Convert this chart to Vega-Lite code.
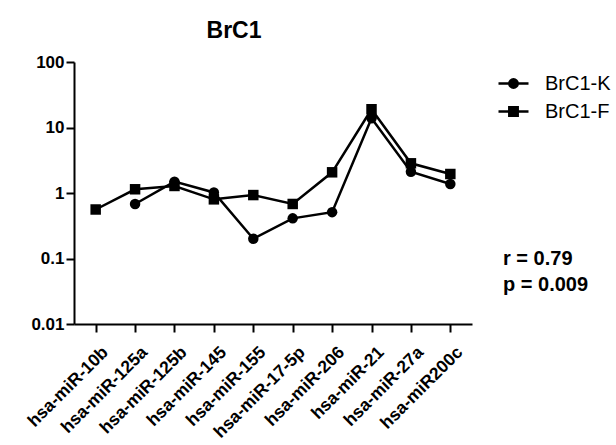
{
  "$schema": "https://vega.github.io/schema/vega-lite/v6.json",
  "width": 398,
  "height": 262,
  "autosize": {"type": "none"},
  "padding": {"left": 74, "top": 62, "right": 144, "bottom": 121},
  "background": "white",
  "config": {
    "font": "Liberation Sans",
    "view": {"stroke": null},
    "axis": {
      "domainColor": "black",
      "domainWidth": 2,
      "tickColor": "black",
      "tickWidth": 2,
      "tickSize": 8,
      "labelColor": "black",
      "labelFont": "Liberation Sans",
      "labelFontWeight": "bold",
      "labelFontSize": 17,
      "grid": false,
      "title": null
    }
  },
  "title": {
    "text": "BrC1",
    "anchor": "middle",
    "frame": "group",
    "dx": -39,
    "fontSize": 23,
    "fontWeight": "bold",
    "font": "Liberation Sans",
    "color": "black",
    "offset": 10
  },
  "data": {
    "values": [
      {"mirna": "hsa-miR-10b", "series": "BrC1-F", "value": 0.56},
      {"mirna": "hsa-miR-125a", "series": "BrC1-F", "value": 1.14},
      {"mirna": "hsa-miR-125b", "series": "BrC1-F", "value": 1.28},
      {"mirna": "hsa-miR-145", "series": "BrC1-F", "value": 0.8},
      {"mirna": "hsa-miR-155", "series": "BrC1-F", "value": 0.93},
      {"mirna": "hsa-miR-17-5p", "series": "BrC1-F", "value": 0.68},
      {"mirna": "hsa-miR-206", "series": "BrC1-F", "value": 2.07},
      {"mirna": "hsa-miR-21", "series": "BrC1-F", "value": 19},
      {"mirna": "hsa-miR-27a", "series": "BrC1-F", "value": 2.84},
      {"mirna": "hsa-miR200c", "series": "BrC1-F", "value": 1.95},
      {"mirna": "hsa-miR-125a", "series": "BrC1-K", "value": 0.68},
      {"mirna": "hsa-miR-125b", "series": "BrC1-K", "value": 1.49},
      {"mirna": "hsa-miR-145", "series": "BrC1-K", "value": 1.02},
      {"mirna": "hsa-miR-155", "series": "BrC1-K", "value": 0.2},
      {"mirna": "hsa-miR-17-5p", "series": "BrC1-K", "value": 0.41},
      {"mirna": "hsa-miR-206", "series": "BrC1-K", "value": 0.51},
      {"mirna": "hsa-miR-21", "series": "BrC1-K", "value": 13.8},
      {"mirna": "hsa-miR-27a", "series": "BrC1-K", "value": 2.11},
      {"mirna": "hsa-miR200c", "series": "BrC1-K", "value": 1.37}
    ]
  },
  "encoding": {
    "x": {
      "field": "mirna",
      "type": "nominal",
      "sort": ["hsa-miR-10b", "hsa-miR-125a", "hsa-miR-125b", "hsa-miR-145", "hsa-miR-155", "hsa-miR-17-5p", "hsa-miR-206", "hsa-miR-21", "hsa-miR-27a", "hsa-miR200c"],
      "scale": {"type": "point", "padding": 0.55},
      "axis": {"labelAngle": -45, "labelPadding": 11, "labelOffset": 3, "labelFontSize": 17.5}
    },
    "y": {
      "field": "value",
      "type": "quantitative",
      "scale": {"type": "log", "domain": [0.01, 100], "nice": false},
      "axis": {"values": [0.01, 0.1, 1, 10, 100], "format": "~g", "labelPadding": 2}
    }
  },
  "resolve": {"scale": {"shape": "independent"}, "legend": {"shape": "independent"}},
  "layer": [
    {
      "mark": {"type": "line", "color": "black", "strokeWidth": 2.5},
      "encoding": {"detail": {"field": "series", "type": "nominal"}}
    },
    {
      "mark": {"type": "point", "filled": true, "color": "black", "size": 110, "opacity": 1},
      "encoding": {
        "shape": {
          "field": "series",
          "type": "nominal",
          "scale": {"domain": ["BrC1-K", "BrC1-F"], "range": ["circle", "square"]},
          "legend": null
        }
      }
    },
    {
      "mark": {"type": "point", "filled": false, "color": "black", "strokeWidth": 2.5, "size": 110, "opacity": 0},
      "encoding": {
        "shape": {
          "field": "series",
          "type": "nominal",
          "scale": {
            "domain": ["BrC1-K", "BrC1-F"],
            "range": [
              "M-1.5,0H1.5M-0.42,0A0.42,0.42,0,1,1,0.42,0A0.42,0.42,0,1,1,-0.42,0M-0.22,0A0.22,0.22,0,1,1,0.22,0A0.22,0.22,0,1,1,-0.22,0M-0.06,0A0.06,0.06,0,1,1,0.06,0A0.06,0.06,0,1,1,-0.06,0",
              "M-1.5,0H1.5M-0.42,-0.42H0.42V0.42H-0.42ZM-0.22,-0.22H0.22V0.22H-0.22ZM-0.04,-0.04H0.04V0.04H-0.04Z"
            ]
          },
          "legend": {
            "title": null,
            "orient": "none",
            "legendX": 428,
            "legendY": 10,
            "padding": 0,
            "symbolSize": 400,
            "symbolOpacity": 1,
            "symbolFillColor": "black",
            "symbolStrokeColor": "black",
            "symbolStrokeWidth": 2.5,
            "labelOffset": 20,
            "rowPadding": 6,
            "labelFont": "Liberation Sans",
            "labelFontSize": 20,
            "labelColor": "black"
          }
        }
      }
    },
    {
      "data": {"values": [{"stat": "r = 0.79"}, {"stat": "p = 0.009"}]},
      "mark": {"type": "point", "filled": true, "size": 16, "opacity": 0},
      "encoding": {
        "x": {"datum": "hsa-miR200c"},
        "y": {"datum": 1},
        "fill": {
          "field": "stat",
          "type": "nominal",
          "scale": {"domain": ["r = 0.79", "p = 0.009"], "range": ["white", "white"]},
          "legend": {
            "title": null,
            "orient": "none",
            "legendX": 409,
            "legendY": 187,
            "padding": 0,
            "symbolSize": 16,
            "symbolOpacity": 0,
            "labelOffset": 0,
            "rowPadding": 6,
            "labelFont": "Liberation Sans",
            "labelFontSize": 20,
            "labelFontWeight": "bold",
            "labelColor": "black"
          }
        }
      }
    }
  ]
}
